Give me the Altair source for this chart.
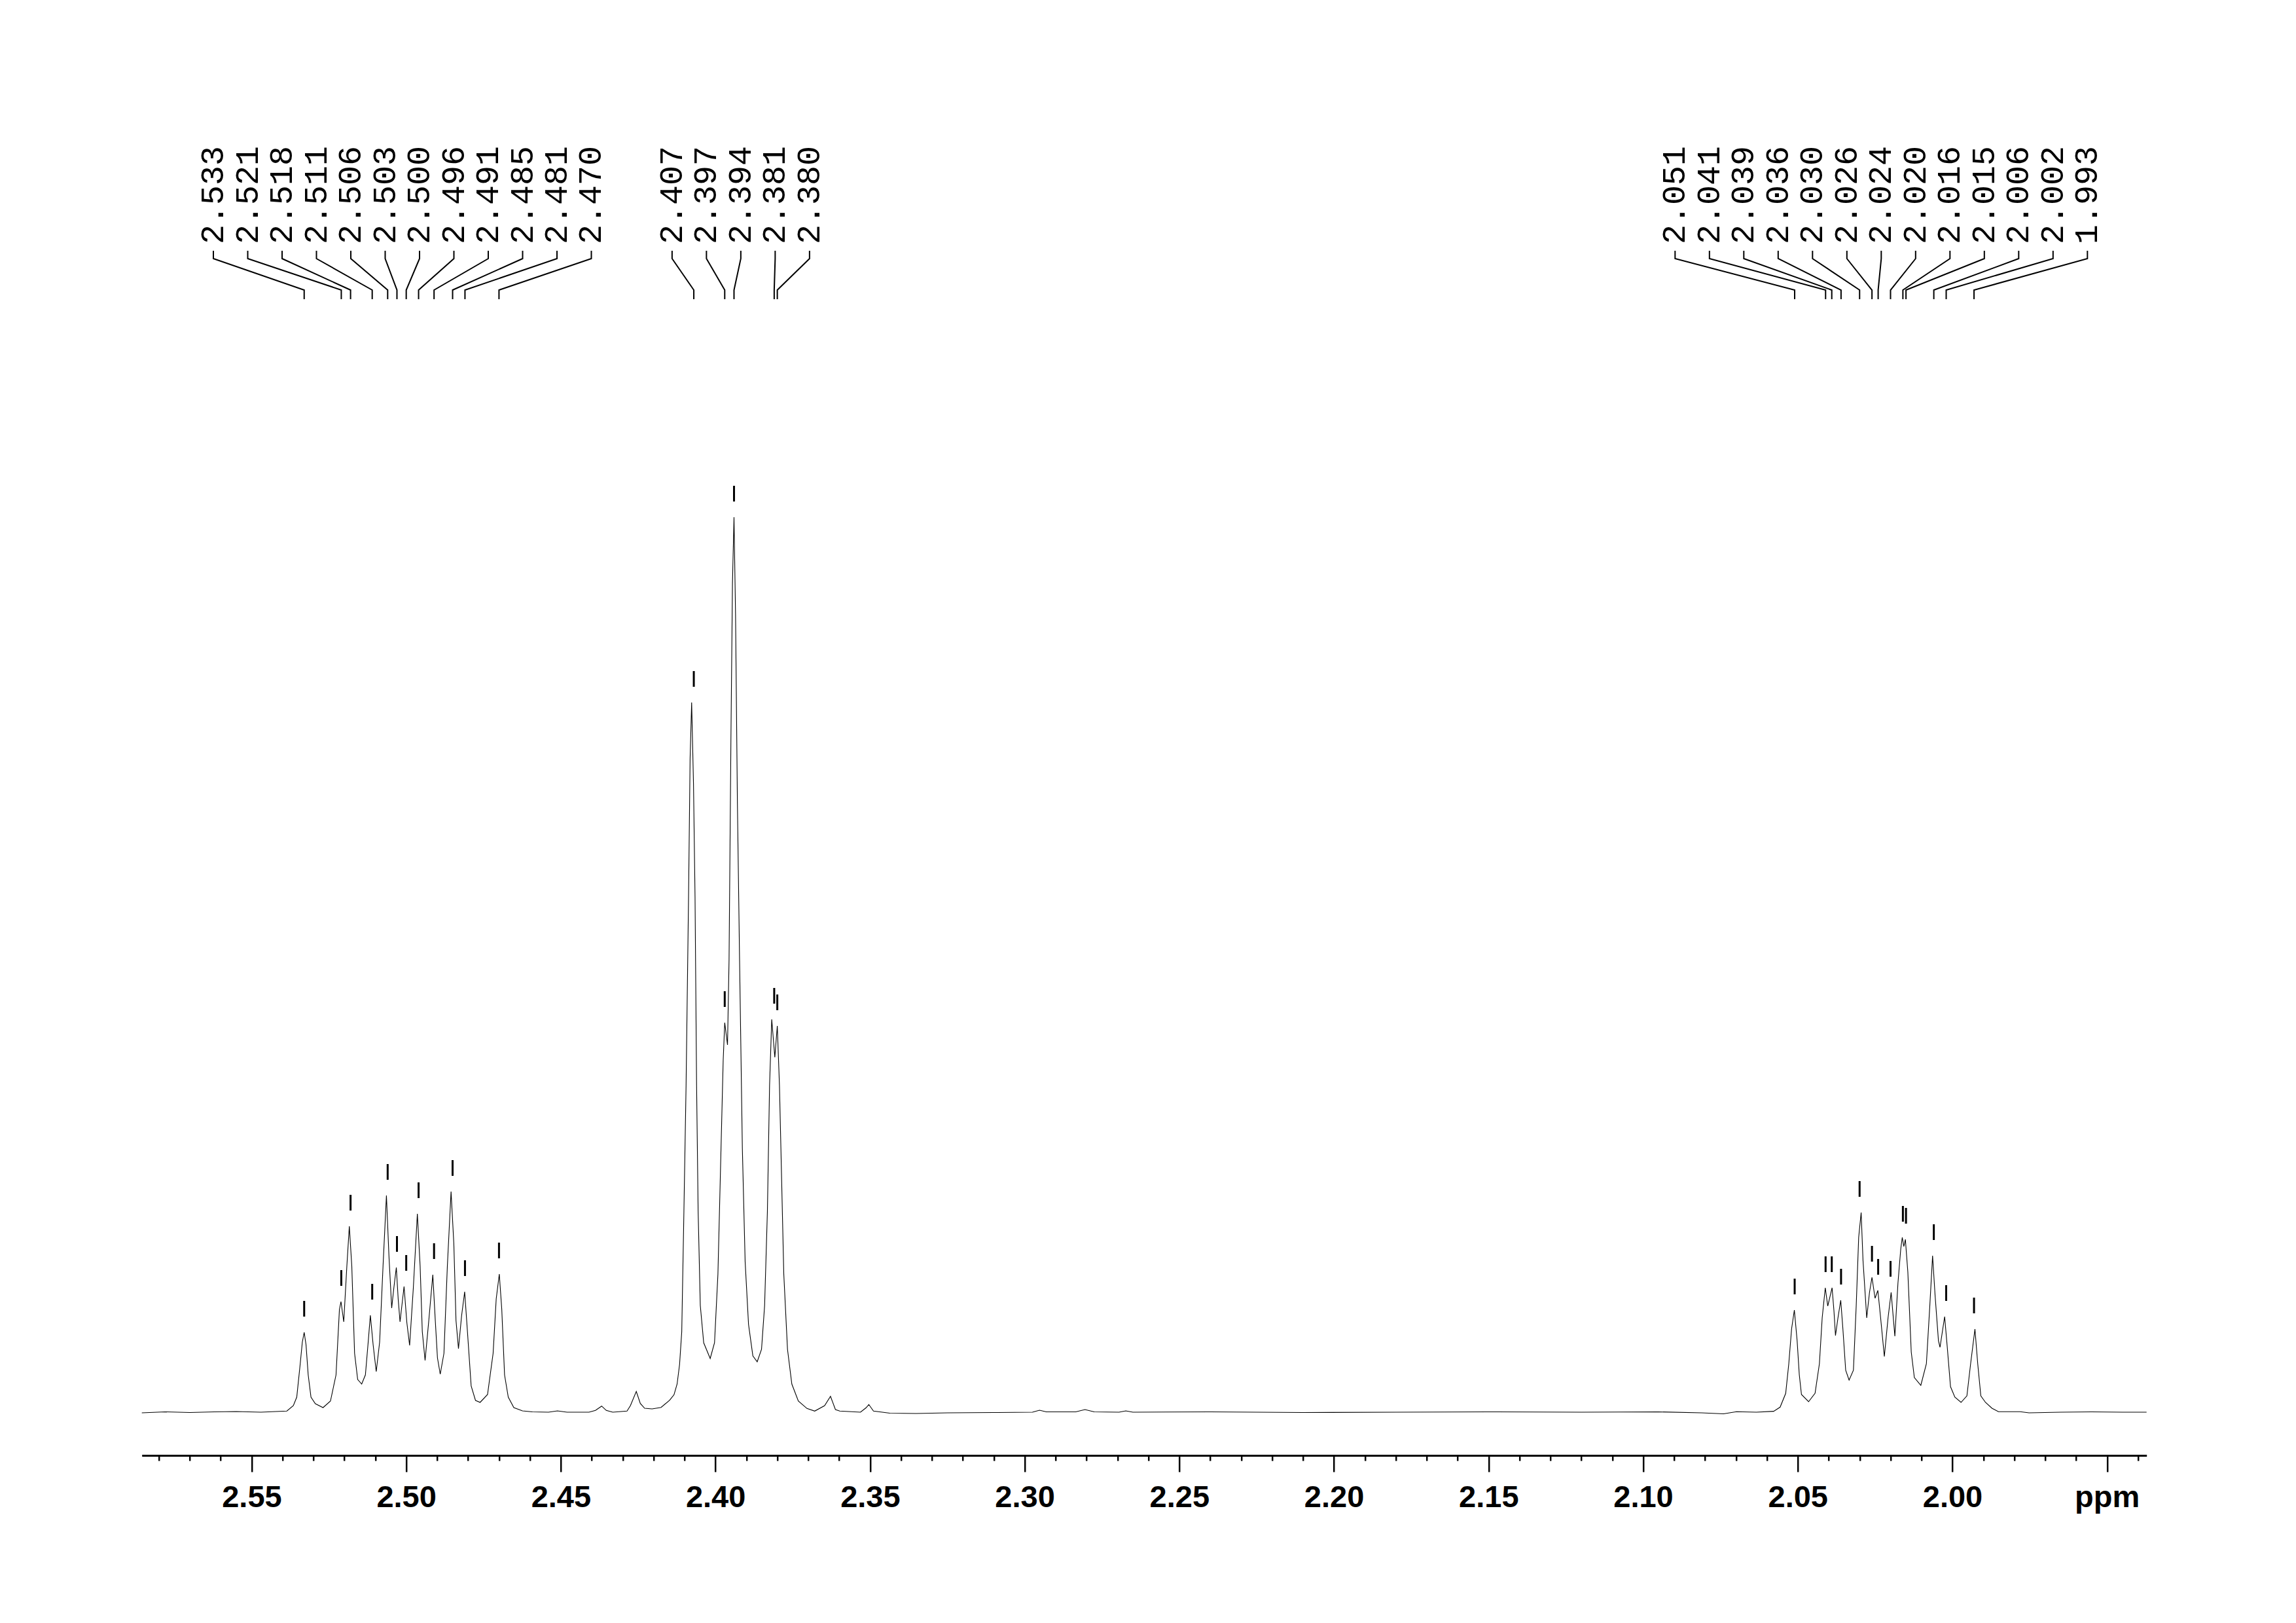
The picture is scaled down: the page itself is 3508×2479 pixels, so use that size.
import altair as alt
import pandas as pd

# ---------------- data ----------------
# spectrum trace: (chemical shift ppm, intensity in arbitrary units)
left_trace = [
    (2.5855, -1), (2.5780, 0.5), (2.5700, -0.5), (2.5620, 0.5), (2.5550, 1), (2.5470, 0),
    (2.5386, 1.7), (2.5365, 10), (2.5354, 23), (2.5343, 73), (2.5336, 107), (2.5330, 122),
    (2.5324, 103), (2.5317, 57), (2.5308, 23), (2.5294, 13), (2.5269, 7), (2.5245, 17),
    (2.5227, 57), (2.5216, 157), (2.5211, 169), (2.5202, 138), (2.5192, 223), (2.5184, 284),
    (2.5176, 223), (2.5167, 90), (2.5157, 50), (2.5144, 43), (2.5132, 57), (2.5123, 107),
    (2.5116, 148), (2.5107, 103), (2.5097, 62), (2.5086, 107), (2.5075, 223), (2.5064, 331),
    (2.5056, 240), (2.5047, 159), (2.5040, 190), (2.5032, 221), (2.5026, 173), (2.5020, 138),
    (2.5007, 192), (2.4998, 137), (2.4989, 102), (2.4977, 190), (2.4964, 303), (2.4955, 223),
    (2.4948, 123), (2.4939, 79), (2.4927, 140), (2.4914, 210), (2.4906, 140), (2.4899, 83),
    (2.4890, 58), (2.4878, 90), (2.4867, 223), (2.4855, 337), (2.4846, 257), (2.4839, 140),
    (2.4831, 97), (2.4821, 147), (2.4811, 184), (2.4802, 123), (2.4790, 40), (2.4776, 18),
    (2.4761, 15), (2.4737, 27), (2.4719, 90), (2.4709, 173), (2.4699, 211), (2.4691, 157),
    (2.4682, 57), (2.4670, 23), (2.4652, 7), (2.4624, 2), (2.4592, 0.5), (2.4540, 0),
    (2.4511, 2), (2.4480, 0), (2.4445, 0),
]
mid_trace = [
    (2.4409, 0), (2.4388, 2.7), (2.4368, 9.3), (2.4353, 2.7), (2.4332, 0), (2.4286, 1.7),
    (2.4275, 10), (2.4256, 31.7), (2.4243, 13.3), (2.4229, 6), (2.4205, 5), (2.4176, 7.3),
    (2.4148, 18.3), (2.4134, 26.7), (2.4124, 43), (2.4116, 73), (2.4109, 123), (2.4102, 307),
    (2.4095, 499), (2.4087, 787), (2.4082, 998), (2.4077, 1084), (2.4071, 960), (2.4066, 787),
    (2.4061, 499), (2.4056, 307), (2.4049, 163), (2.4038, 106), (2.4017, 82), (2.4003, 106),
    (2.3992, 211), (2.3982, 403), (2.3975, 537), (2.3970, 595), (2.3961, 561), (2.3956, 691),
    (2.3950, 1026), (2.3945, 1266), (2.3940, 1367), (2.3935, 1218), (2.3929, 930), (2.3922, 691),
    (2.3913, 403), (2.3904, 230), (2.3893, 134), (2.3879, 86), (2.3865, 77), (2.3851, 96),
    (2.3841, 163), (2.3832, 307), (2.3825, 499), (2.3818, 600), (2.3808, 542), (2.3800, 590),
    (2.3793, 499), (2.3786, 355), (2.3779, 211), (2.3767, 96), (2.3753, 43), (2.3732, 17),
    (2.3704, 5.7), (2.3679, 1.7), (2.3647, 10), (2.3628, 24.3), (2.3612, 4), (2.3598, 1.7),
    (2.3531, 0), (2.3513, 6.7), (2.3504, 11.7), (2.3489, 1.7), (2.3436, -1.5), (2.3351, -2),
]
flat_trace = [
    (2.3250, -1), (2.3100, -0.5), (2.2975, 0), (2.2952, 3), (2.2930, 0.5), (2.2835, 0.5),
    (2.2805, 4), (2.2775, 0.5), (2.2695, 0), (2.2673, 2), (2.2650, 0), (2.2400, 0.5),
    (2.2100, -0.5), (2.1800, 0), (2.1500, 0.5), (2.1200, 0), (2.0950, 0.5),
]
right_trace = [
    (2.0811, -1), (2.0740, -2.5), (2.0698, 0.7), (2.0634, 0), (2.0578, 1.4), (2.0557, 7.7),
    (2.0539, 28.7), (2.0529, 74), (2.0520, 127), (2.0511, 156), (2.0502, 109), (2.0495, 57),
    (2.0488, 27), (2.0465, 16), (2.0444, 29), (2.0430, 74), (2.0421, 144), (2.0411, 190),
    (2.0403, 162), (2.0389, 190), (2.0383, 155), (2.0378, 117), (2.0370, 144), (2.0361, 171),
    (2.0354, 127), (2.0345, 64), (2.0334, 49), (2.0320, 64), (2.0311, 162), (2.0303, 267),
    (2.0295, 305), (2.0289, 232), (2.0277, 144), (2.0268, 183), (2.0260, 206), (2.0250, 174),
    (2.0241, 186), (2.0232, 144), (2.0220, 85), (2.0208, 144), (2.0198, 183), (2.0186, 116),
    (2.0176, 197), (2.0167, 249), (2.0162, 267), (2.0157, 253), (2.0152, 264), (2.0144, 214),
    (2.0133, 92), (2.0123, 53), (2.0102, 41), (2.0084, 74), (2.0073, 162), (2.0064, 239),
    (2.0056, 179), (2.0045, 109), (2.0040, 99), (2.0025, 146), (2.0017, 102), (2.0006, 39),
    (1.9992, 23), (1.9972, 15), (1.9953, 25), (1.9941, 74), (1.9927, 127), (1.9918, 74),
    (1.9908, 25), (1.9893, 15), (1.9872, 6), (1.9851, 0.7), (1.9781, 0.7), (1.9752, -1),
    (1.9650, 0), (1.9550, 0.5), (1.9450, 0), (1.9372, 0),
]

# picked peaks (label value, peak intensity, label group)
peak_ppm = [2.533, 2.521, 2.518, 2.511, 2.506, 2.503, 2.500, 2.496, 2.491, 2.485, 2.481, 2.470,
            2.407, 2.397, 2.394, 2.381, 2.380,
            2.051, 2.041, 2.039, 2.036, 2.030, 2.026, 2.024, 2.020, 2.016, 2.015, 2.006, 2.002, 1.993]
peak_int = [122, 169, 284, 148, 331, 221, 192, 303, 210, 337, 184, 211,
            1084, 595, 1367, 600, 590,
            156, 190, 190, 171, 305, 206, 186, 183, 267, 264, 239, 146, 127]
peak_group = [0] * 12 + [1] * 5 + [2] * 13

major_ticks = [2.55, 2.50, 2.45, 2.40, 2.35, 2.30, 2.25, 2.20, 2.15, 2.10, 2.05, 2.00, 1.95]
axis_unit = "ppm"

# ---------------- layout ----------------
X_LO, X_HI = 1.9372, 2.5855
PLOT_W, PLOT_H = 3063, 2165
Y_LO = -66
Y_HI = Y_LO + PLOT_H

px_per_ppm = PLOT_W / (X_HI - X_LO)
label_step = 52.5 / px_per_ppm

trace = left_trace + mid_trace + flat_trace + right_trace
trace_df = pd.DataFrame(trace, columns=["ppm", "h"])
trace_df["idx"] = range(len(trace_df))

label_x = []
for g in sorted(set(peak_group)):
    members = [i for i, gg in enumerate(peak_group) if gg == g]
    n = len(members)
    mean = sum(peak_ppm[i] for i in members) / n
    for j, i in enumerate(members):
        label_x.append(mean - (j - (n - 1) / 2) * label_step)

peaks_df = pd.DataFrame({
    "ppm": peak_ppm,
    "h": peak_int,
    "lx": label_x,
    "label": [f"{v:.3f}" for v in peak_ppm],
})
peaks_df["t1"] = peaks_df["h"] + 24
peaks_df["t2"] = peaks_df["h"] + 48
peaks_df["ty"] = 1784

lead_rows = []
for i in range(len(peak_ppm)):
    lead_rows += [
        {"id": i, "k": 0, "x": label_x[i], "y": 1774},
        {"id": i, "k": 1, "x": label_x[i], "y": 1762},
        {"id": i, "k": 2, "x": peak_ppm[i], "y": 1714},
        {"id": i, "k": 3, "x": peak_ppm[i], "y": 1700},
    ]
lead_df = pd.DataFrame(lead_rows)

tick_vals = [round(2.58 - 0.01 * i, 2) for i in range(65)]
is_major = "abs(datum.value*20 - round(datum.value*20)) < 0.001"
label_expr = (f"({is_major}) ? (abs(datum.value - {major_ticks[-1]}) < 0.001 ? '{axis_unit}' "
              f": format(datum.value, '.2f')) : ''")

x_scale = alt.Scale(domain=[X_LO, X_HI], reverse=True, nice=False, zero=False)
y_scale = alt.Scale(domain=[Y_LO, Y_HI], nice=False, zero=False)
x_axis = alt.Axis(
    values=tick_vals, labelExpr=label_expr, title="",
    tickSize={"condition": {"test": is_major, "value": 25}, "value": 8},
    tickWidth=2.5, tickColor="black", domainColor="black", domainWidth=3,
    labelFont="Liberation Sans", labelFontSize=47, labelFontWeight="bold",
    labelColor="black", labelPadding=17, labelOverlap=False, labelFlush=False,
    grid=False,
)

def X(field):
    return alt.X(field, scale=x_scale, axis=x_axis, title="")

def Y(field):
    return alt.Y(field, scale=y_scale, axis=None, title="")

line = alt.Chart(trace_df).mark_line(color="black", strokeWidth=1.1).encode(
    x=X("ppm:Q"), y=Y("h:Q"), order="idx:Q")
ticks = alt.Chart(peaks_df).mark_rule(color="black", strokeWidth=3).encode(
    x=X("ppm:Q"), y=Y("t1:Q"), y2="t2:Q")
leaders = alt.Chart(lead_df).mark_line(color="black", strokeWidth=2).encode(
    x=X("x:Q"), y=Y("y:Q"), detail="id:N", order="k:Q")
texts = alt.Chart(peaks_df).mark_text(
    angle=270, align="left", baseline="middle", font="Liberation Mono",
    fontSize=50, color="black").encode(
    x=X("lx:Q"), y=Y("ty:Q"), text="label:N")

chart = alt.layer(line, ticks, leaders, texts).properties(
    width=PLOT_W, height=PLOT_H,
    padding={"left": 208.7, "top": 50, "right": 120, "bottom": 200},
    autosize=alt.AutoSizeParams(type="none"),
    background="white",
).configure_view(strokeWidth=0)

chart.save("out.html", embed_options={"renderer": "svg", "actions": False})
